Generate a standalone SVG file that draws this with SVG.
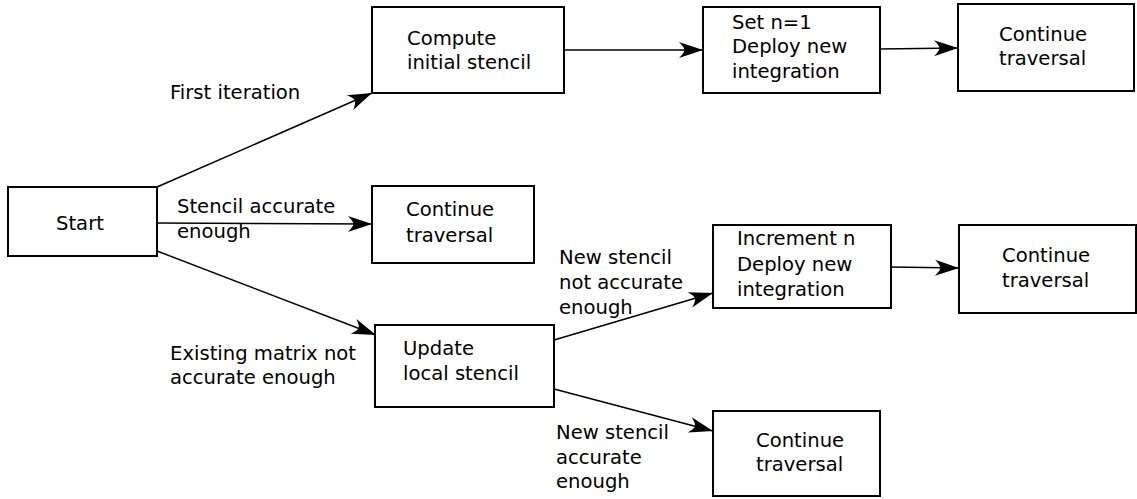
<svg xmlns="http://www.w3.org/2000/svg" width="1137" height="499" viewBox="0 0 1137 499">
  <style>
    .box { fill: #ffffff; stroke: #000000; stroke-width: 2; }
    .lbl { font-family: "DejaVu Sans", sans-serif; font-size: 19.6px; fill: #000000; }
    .edge { fill: none; stroke: #000000; stroke-width: 1.5; marker-end: url(#arrow); }
  </style>
  <defs>
    <marker id="arrow" markerUnits="userSpaceOnUse" markerWidth="30" markerHeight="20" viewBox="-26 -10 28 20" refX="0" refY="0" orient="auto">
      <path d="M0,0 L-24,-8 Q-19,-3 -18.5,0 Q-19,3 -24,8 Z" fill="#000000"/>
    </marker>
  </defs>
  <rect width="1137" height="499" fill="#ffffff"/>

  <g id="connectors">
    <line class="edge" x1="157" y1="187" x2="372" y2="93"/>
    <line class="edge" x1="157" y1="223" x2="372" y2="224"/>
    <line class="edge" x1="157" y1="251" x2="376" y2="335"/>
    <line class="edge" x1="564" y1="50" x2="703" y2="50"/>
    <line class="edge" x1="880" y1="49" x2="958" y2="48"/>
    <line class="edge" x1="554" y1="340" x2="713" y2="293"/>
    <line class="edge" x1="554" y1="389" x2="713" y2="431"/>
    <line class="edge" x1="891" y1="267" x2="959" y2="268"/>
  </g>

  <g id="edge-labels">
    <text class="lbl" x="170" y="99">First iteration</text>
    <text class="lbl" x="177" y="213">Stencil accurate</text>
    <text class="lbl" x="177" y="238">enough</text>
    <text class="lbl" x="170" y="360">Existing matrix not</text>
    <text class="lbl" x="170" y="384">accurate enough</text>
    <text class="lbl" x="559" y="264">New stencil</text>
    <text class="lbl" x="559" y="289">not accurate</text>
    <text class="lbl" x="559" y="314">enough</text>
    <text class="lbl" x="556" y="439">New stencil</text>
    <text class="lbl" x="556" y="464">accurate</text>
    <text class="lbl" x="556" y="488">enough</text>
  </g>

  <g id="start">
    <rect class="box" x="8" y="187" width="149" height="69"/>
    <text class="lbl" x="56" y="230">Start</text>
  </g>
  <g id="compute-initial">
    <rect class="box" x="372" y="7" width="192" height="86"/>
    <text class="lbl" x="407" y="45">Compute</text>
    <text class="lbl" x="407" y="69">initial stencil</text>
  </g>
  <g id="set-n1">
    <rect class="box" x="703" y="7" width="177" height="86"/>
    <text class="lbl" x="732" y="29">Set n=1</text>
    <text class="lbl" x="732" y="53">Deploy new</text>
    <text class="lbl" x="732" y="78">integration</text>
  </g>
  <g id="continue-1">
    <rect class="box" x="958" y="4" width="176" height="87"/>
    <text class="lbl" x="999" y="41">Continue</text>
    <text class="lbl" x="999" y="65">traversal</text>
  </g>
  <g id="continue-2">
    <rect class="box" x="372" y="186" width="162" height="77"/>
    <text class="lbl" x="406" y="216">Continue</text>
    <text class="lbl" x="406" y="242">traversal</text>
  </g>
  <g id="update-local">
    <rect class="box" x="375" y="325" width="179" height="82"/>
    <text class="lbl" x="403" y="355">Update</text>
    <text class="lbl" x="403" y="380">local stencil</text>
  </g>
  <g id="increment-n">
    <rect class="box" x="713" y="225" width="178" height="83"/>
    <text class="lbl" x="737" y="245">Increment n</text>
    <text class="lbl" x="737" y="271">Deploy new</text>
    <text class="lbl" x="737" y="296">integration</text>
  </g>
  <g id="continue-3">
    <rect class="box" x="959" y="225" width="177" height="88"/>
    <text class="lbl" x="1002" y="262">Continue</text>
    <text class="lbl" x="1002" y="287">traversal</text>
  </g>
  <g id="continue-4">
    <rect class="box" x="713" y="411" width="167" height="85"/>
    <text class="lbl" x="756" y="447">Continue</text>
    <text class="lbl" x="756" y="471">traversal</text>
  </g>
</svg>
